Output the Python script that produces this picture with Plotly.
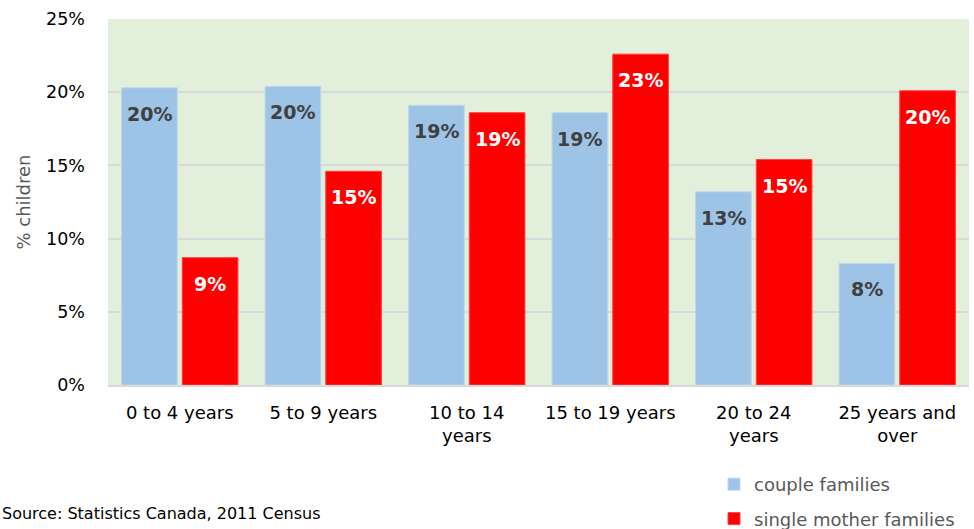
import plotly.graph_objects as go

categories = ["0 to 4 years", "5 to 9 years", "10 to 14<br>years", "15 to 19 years", "20 to 24<br>years", "25 years and<br>over"]
couple_families = [20.3, 20.4, 19.1, 18.6, 13.2, 8.3]
single_mother_families = [8.7, 14.6, 18.6, 22.6, 15.4, 20.1]
y_tick_vals = [0, 5, 10, 15, 20, 25]
y_tick_text = ["0%", "5%", "10%", "15%", "20%", "25%"]

xs = list(range(len(categories)))
BASE_FONT = "DejaVu Sans, Verdana, sans-serif"
LABEL_FONT = "DejaVu Sans, Verdana, sans-serif"

W, H = 974, 529
L, R, T, B = 108, 5, 19, 144
pw, ph = W - L - R, H - T - B

def px_x(px):
    return (px - L) / pw

def px_y(py):
    return (H - B - py) / ph

fig = go.Figure()
fig.add_trace(go.Bar(
    x=xs, y=couple_families, name="couple families",
    marker=dict(color="#9DC3E6", line=dict(color="#BDD7EE", width=1)),
    legendgroup="a", hoverinfo="skip",
))
fig.add_trace(go.Bar(
    x=xs, y=single_mother_families, name="single mother families",
    marker=dict(color="#FF0000", line=dict(color="#FF4040", width=1)),
    legendgroup="b", hoverinfo="skip",
))

off = 0.2115
annotations = []
for i, v in enumerate(couple_families):
    annotations.append(dict(x=i - off, y=v, xref="x", yref="y", text=f"<b>{round(v)}%</b>",
                            showarrow=False, yanchor="middle", yshift=-26,
                            font=dict(family=LABEL_FONT, size=19, color="#404040")))
for i, v in enumerate(single_mother_families):
    annotations.append(dict(x=i + off, y=v, xref="x", yref="y", text=f"<b>{round(v)}%</b>",
                            showarrow=False, yanchor="middle", yshift=-26,
                            font=dict(family=LABEL_FONT, size=19, color="#FFFFFF")))
annotations.append(dict(x=px_x(0), y=px_y(513), xref="paper", yref="paper",
                        text="Source: Statistics Canada, 2011 Census",
                        showarrow=False, xanchor="left", yanchor="middle",
                        font=dict(family=BASE_FONT, size=16, color="#000000")))

fig.update_layout(
    width=W, height=H,
    margin=dict(l=L, r=R, t=T, b=B, pad=0, autoexpand=False),
    paper_bgcolor="#FFFFFF",
    plot_bgcolor="#E2EFDA",
    barmode="group",
    bargap=0.154,
    bargroupgap=0.083,
    font=dict(family=BASE_FONT, size=17, color="#000000"),
    showlegend=True,
    legend=dict(
        x=px_x(714), y=px_y(466), xanchor="left", yanchor="top",
        xref="paper", yref="paper",
        font=dict(family=BASE_FONT, size=18, color="#595959"),
        bgcolor="rgba(0,0,0,0)", tracegroupgap=8, traceorder="grouped",
        itemwidth=30,
    ),
    annotations=annotations,
    xaxis=dict(
        range=[-0.5, 5.5], tickvals=xs, ticktext=categories,
        showgrid=False, zeroline=False,
        showline=True, linecolor="#D9D9D9", linewidth=2,
        tickfont=dict(family=BASE_FONT, size=18, color="#000000"),
        ticks="", ticklabelstandoff=10,
    ),
    yaxis=dict(
        range=[0, 25], tickvals=y_tick_vals, ticktext=y_tick_text,
        showgrid=True, gridcolor="#D9D9D9", gridwidth=2,
        zeroline=False, showline=False,
        tickfont=dict(family=BASE_FONT, size=17.5, color="#000000"),
        ticklabelstandoff=22,
        title=dict(text="% children", font=dict(family=BASE_FONT, size=18, color="#595959"), standoff=10),
    ),
)

fig.write_html("out.html", config={"displayModeBar": False},
               post_script="document.body.style.margin='0';document.body.style.overflow='hidden';")
